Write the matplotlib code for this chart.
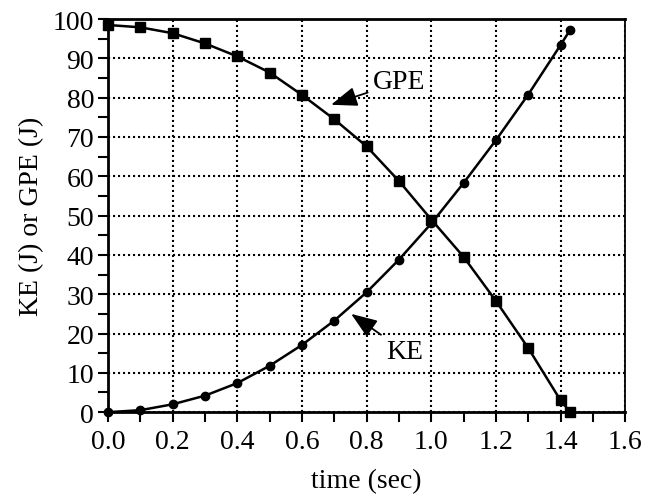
import matplotlib

matplotlib.use("Agg")
import matplotlib.pyplot as plt
from matplotlib.ticker import MultipleLocator

# time samples (s) and energies (J)
time_s = [0.0, 0.1, 0.2, 0.3, 0.4, 0.5, 0.6, 0.7, 0.8, 0.9,
          1.0, 1.1, 1.2, 1.3, 1.4, 1.43]
gpe = [98.5, 97.9, 96.4, 93.8, 90.5, 86.4, 80.7, 74.5, 67.6, 58.8,
       49.0, 39.5, 28.3, 16.3, 3.0, 0.0]
ke = [0.0, 0.5, 2.0, 4.2, 7.4, 11.8, 17.1, 23.3, 30.5, 38.8,
      48.0, 58.3, 69.2, 80.8, 93.4, 97.3]

plt.rcParams["font.family"] = ["Liberation Serif", "DejaVu Serif"]
FS = 20

fig = plt.figure(figsize=(6.63, 5.02), dpi=100)
ax = fig.add_axes([0.163, 0.177, 0.78, 0.783])

ax.plot(time_s, gpe, color="black", linewidth=1.8, marker="s",
        markersize=6.5, clip_on=False, zorder=4)
ax.plot(time_s, ke, color="black", linewidth=1.8, marker="o",
        markersize=6, clip_on=False, zorder=4)

ax.set_xlim(0, 1.6)
ax.set_ylim(0, 100)
ax.xaxis.set_major_locator(MultipleLocator(0.2))
ax.xaxis.set_minor_locator(MultipleLocator(0.1))
ax.yaxis.set_major_locator(MultipleLocator(10))
ax.yaxis.set_minor_locator(MultipleLocator(5))
ax.xaxis.set_major_formatter(lambda v, pos: f"{v:.1f}")

ax.grid(True, which="major", color="black", linestyle=(0, (1, 1.4)),
        linewidth=1.5)
ax.tick_params(which="both", direction="out", length=7, width=1.5,
               labelsize=FS, colors="black")
ax.tick_params(axis="x", pad=5)
ax.tick_params(axis="y", pad=3)

for side in ["left", "bottom", "top"]:
    ax.spines[side].set_linewidth(2)
ax.spines["right"].set_linewidth(1.3)

ax.set_xlabel("time (sec)", fontsize=FS, labelpad=10)
ax.set_ylabel("KE (J) or GPE (J)", fontsize=FS, labelpad=6)

arrow = dict(arrowstyle="-|>,head_length=0.8,head_width=0.3",
             color="black", linewidth=1.3, shrinkA=2, shrinkB=0)
ax.annotate("GPE", xy=(0.69, 78.2), xytext=(0.82, 84.0), fontsize=FS,
            va="center", ha="left", arrowprops=arrow, zorder=6)
ax.annotate("KE", xy=(0.752, 25.0), xytext=(0.86, 15.5), fontsize=FS,
            va="center", ha="left", arrowprops=arrow, zorder=6)

fig.savefig("out.png", dpi=100)
